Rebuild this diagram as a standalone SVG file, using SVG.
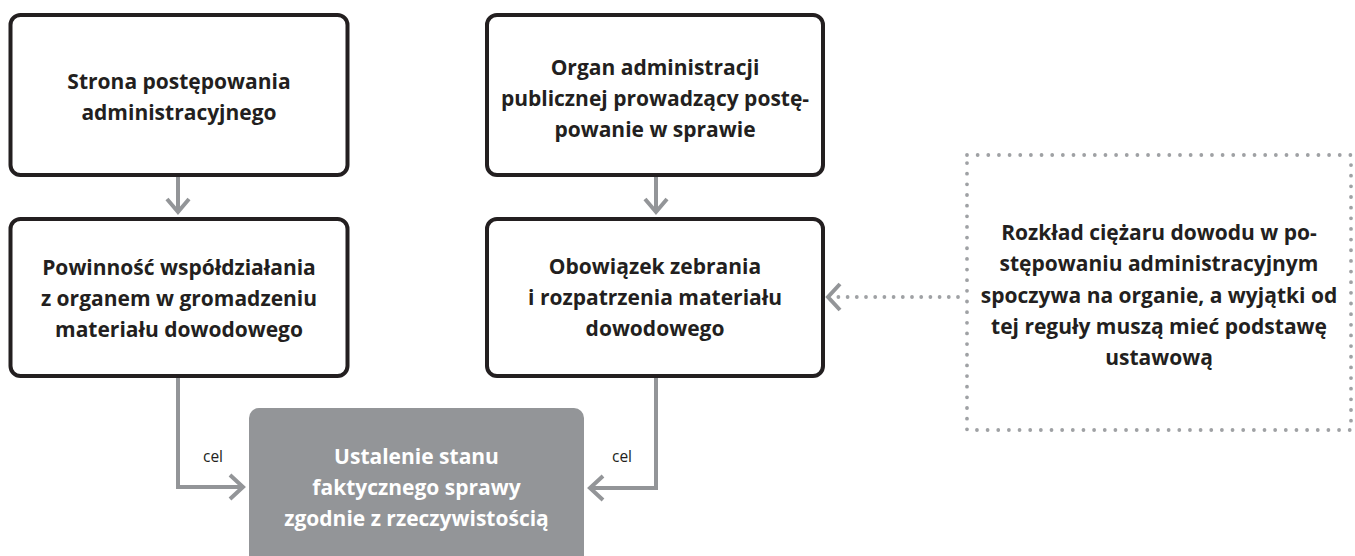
<svg xmlns="http://www.w3.org/2000/svg" width="1355" height="556" viewBox="0 0 1355 556">
  <style>
    .box { fill: #ffffff; stroke: #231f20; stroke-width: 4; }
    .goal { fill: #939598; }
    .note { fill: none; stroke: #9fa1a4; stroke-width: 3.8; stroke-linecap: round; stroke-dasharray: 0 10.65; }
    .t { font-family: "Open Sans", "Noto Sans", sans-serif; font-weight: 700; font-size: 21px; fill: #231f20; text-anchor: middle; }
    .tw { fill: #ffffff; }
    .lbl { font-family: "Open Sans", "Noto Sans", sans-serif; font-size: 15.5px; fill: #231f20; text-anchor: middle; }
    .link { fill: none; stroke: #939598; stroke-width: 4; }
    .dots { fill: none; stroke: #9fa1a4; stroke-width: 3.8; stroke-linecap: round; stroke-dasharray: 0 9.2; }
    .head { fill: none; stroke: #939598; stroke-width: 4; }
  </style>

  <!-- connectors -->
  <g id="connectors">
    <path class="link" d="M178 177 V212"/>
    <path class="head" d="M167 199 L178 212 L189 199"/>
    <path class="link" d="M656 177 V212"/>
    <path class="head" d="M645 199 L656 212 L667 199"/>
    <path class="link" d="M178 378 V487 H243"/>
    <path class="head" d="M230 475 L243 487 L230 499"/>
    <path class="link" d="M656 378 V488 H590"/>
    <path class="head" d="M603 476 L590 488 L603 500"/>
    <text class="lbl" x="213" y="462">cel</text>
    <text class="lbl" x="622" y="462">cel</text>
    <path class="dots" d="M958 297 H838"/>
    <path class="head" d="M840 284 L828 297 L840 310"/>
  </g>

  <g id="strona">
    <rect class="box" x="10.5" y="15" width="337" height="160" rx="10"/>
    <text class="t" x="179" y="89">Strona postępowania</text>
    <text class="t" x="179" y="120">administracyjnego</text>
  </g>

  <g id="powinnosc">
    <rect class="box" x="10.5" y="219" width="337" height="157" rx="10"/>
    <text class="t" x="179" y="275">Powinność współdziałania</text>
    <text class="t" x="179" y="306">z organem w gromadzeniu</text>
    <text class="t" x="179" y="337">materiału dowodowego</text>
  </g>

  <g id="organ">
    <rect class="box" x="487" y="15" width="336" height="160" rx="10"/>
    <text class="t" x="655" y="75">Organ administracji</text>
    <text class="t" x="655" y="106">publicznej prowadzący postę-</text>
    <text class="t" x="655" y="137">powanie w sprawie</text>
  </g>

  <g id="obowiazek">
    <rect class="box" x="487" y="219" width="336" height="157" rx="10"/>
    <text class="t" x="655" y="274">Obowiązek zebrania</text>
    <text class="t" x="655" y="305">i rozpatrzenia materiału</text>
    <text class="t" x="655" y="336">dowodowego</text>
  </g>

  <g id="rozklad">
    <rect class="note" x="967" y="155" width="384" height="275"/>
    <text class="t" x="1159" y="240">Rozkład ciężaru dowodu w po-</text>
    <text class="t" x="1159" y="271">stępowaniu administracyjnym</text>
    <text class="t" x="1159" y="303">spoczywa na organie, a wyjątki od</text>
    <text class="t" x="1159" y="334">tej reguły muszą mieć podstawę</text>
    <text class="t" x="1159" y="365">ustawową</text>
  </g>

  <g id="ustalenie">
    <rect class="goal" x="249" y="408" width="335" height="170" rx="10"/>
    <text class="t tw" x="416.5" y="464">Ustalenie stanu</text>
    <text class="t tw" x="416.5" y="495">faktycznego sprawy</text>
    <text class="t tw" x="416.5" y="526">zgodnie z rzeczywistością</text>
  </g>
</svg>
